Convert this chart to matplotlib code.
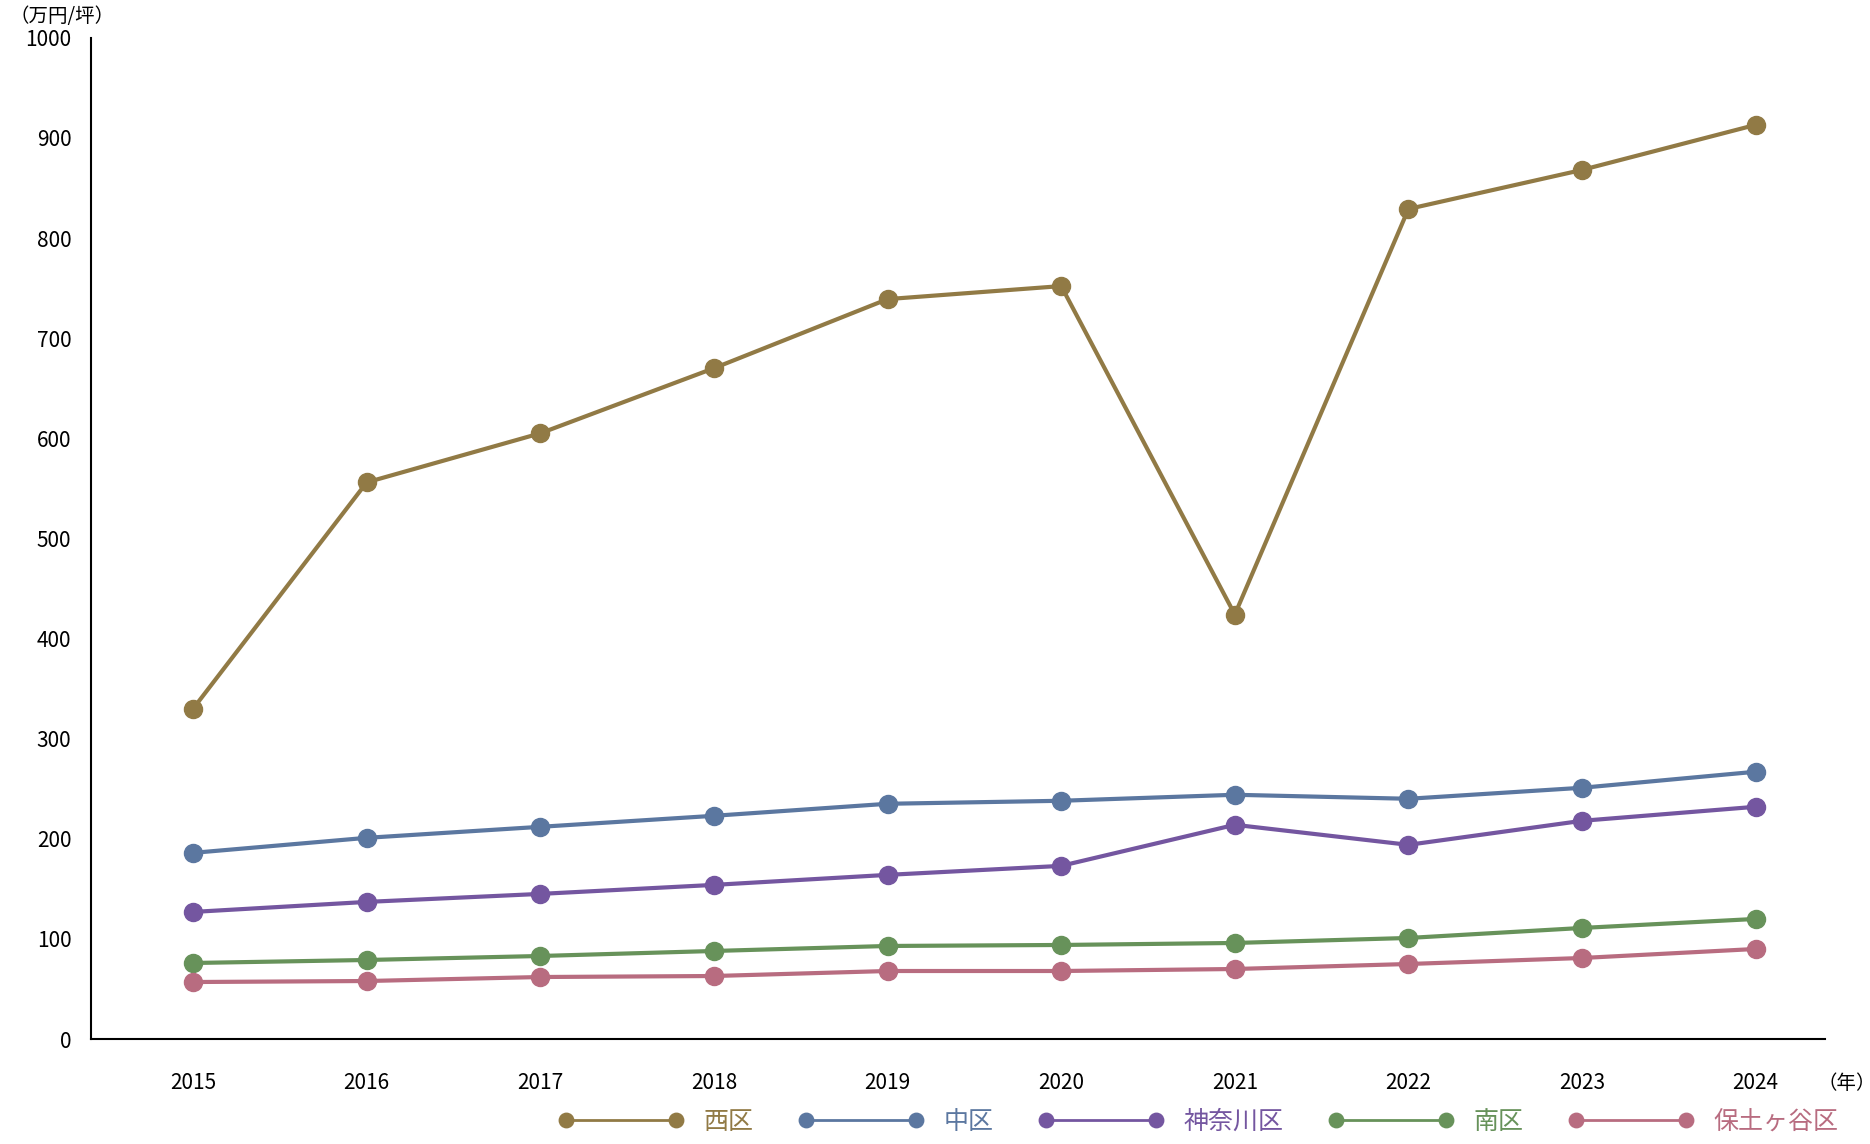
import matplotlib.pyplot as plt

plt.rcParams['font.family'] = ['Noto Sans CJK JP', 'DejaVu Sans']

years = [2015, 2016, 2017, 2018, 2019, 2020, 2021, 2022, 2023, 2024]
nishi = [330, 556, 605, 670, 739, 752, 424, 829, 868, 913]
naka = [186, 201, 212, 223, 235, 238, 244, 240, 251, 267]
kanagawa = [127, 137, 145, 154, 164, 173, 214, 194, 218, 232]
minami = [76, 79, 83, 88, 93, 94, 96, 101, 111, 120]
hodogaya = [57, 58, 62, 63, 68, 68, 70, 75, 81, 90]

series = [
    ('西区', nishi, '#917a45'),
    ('中区', naka, '#5b77a0'),
    ('神奈川区', kanagawa, '#7456a0'),
    ('南区', minami, '#67925a'),
    ('保土ヶ谷区', hodogaya, '#b86c80'),
]

fig = plt.figure(figsize=(18.7, 11.44), dpi=100)
ax = fig.add_axes([0.0485, 0.0917, 0.9275, 0.8753])

for name, vals, col in series:
    ax.plot(years, vals, color=col, lw=3, marker='o', ms=13, label=name)

ax.set_xlim(2014.41, 2024.40)
ax.set_ylim(0, 1000)
ax.set_xticks(years)
ax.set_yticks(range(0, 1001, 100))
ax.tick_params(length=0, labelsize=15, pad=14)
ax.tick_params(axis='x', pad=24)
for s in ['top', 'right']:
    ax.spines[s].set_visible(False)
for s in ['left', 'bottom']:
    ax.spines[s].set_linewidth(1.5)

fig.text(0.005, 0.995, '（万円/坪）', fontsize=14, va='top')
fig.text(0.972, 0.053, '（年）', fontsize=14, va='center')

leg = fig.legend(loc='lower right', bbox_to_anchor=(0.995, -0.012), ncol=5, frameon=False,
                 fontsize=18, handlelength=5, numpoints=2, markerscale=0.8,
                 columnspacing=1.8, handletextpad=0.8)
for t, (_, _, col) in zip(leg.get_texts(), series):
    t.set_color(col)
for h in leg.legend_handles:
    h.set_linewidth(2)

fig.savefig('out.png')
